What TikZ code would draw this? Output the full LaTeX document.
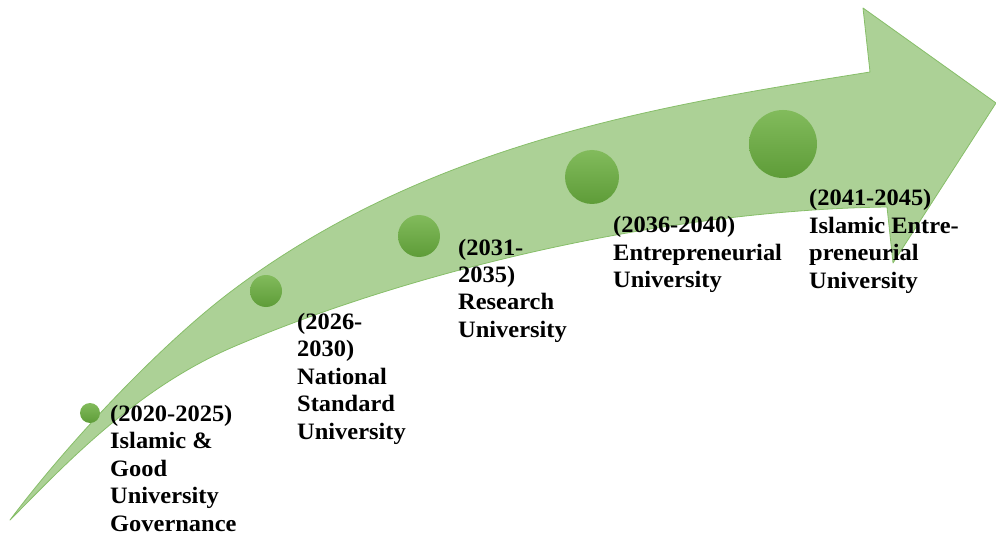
\documentclass[tikz,border=0pt]{standalone}
\usepackage{fontspec}
\setmainfont{Liberation Serif}[FakeStretch=1.04]
\definecolor{bandfill}{RGB}{172,209,150}
\definecolor{bandline}{RGB}{135,190,105}
\definecolor{dottop}{RGB}{130,187,92}
\definecolor{dotbot}{RGB}{94,156,56}
\begin{document}
\begin{tikzpicture}[x=1pt,y=-1pt,
  band/.style={fill=bandfill, draw=bandline, line width=0.8pt, line join=round},
  dot/.style={circle, inner sep=0pt, top color=dottop, bottom color=dotbot, draw=none},
  lbl/.style={anchor=base west, inner sep=0pt, font=\bfseries\fontsize{23.5}{27.5}\selectfont, text=black}]
\useasboundingbox (0,0) rectangle (996,540);
% curved arrow
\coordinate (tail) at (10,520);
\coordinate (um) at (233,290);
\coordinate (un) at (870,72);
\coordinate (hu) at (863,8);
\coordinate (tip) at (996,103);
\coordinate (hl) at (893,263);
\coordinate (ln) at (887,207);
\coordinate (lm) at (233,347);
\path[band] (tail) .. controls (70,440) and (163,342.5) .. (um)
  .. controls (433,140) and (670,104) .. (un)
  -- (hu) -- (tip) -- (hl) -- (ln)
  .. controls (667,210) and (413,270) .. (lm)
  .. controls (133,390) and (60,470) .. (tail) -- cycle;
% milestones
\node[dot, minimum size=20pt] (c1) at (90,413) {};
\node[dot, minimum size=32pt] (c2) at (266,291) {};
\node[dot, minimum size=42pt] (c3) at (419,236) {};
\node[dot, minimum size=54pt] (c4) at (592,177) {};
\node[dot, minimum size=68pt] (c5) at (783,144) {};
% labels
\node[lbl] (t1) at (110,421) {\begin{tabular}[t]{@{}l@{}}(2020-2025)\\Islamic \&\\Good\\University\\Governance\end{tabular}};
\node[lbl] (t2) at (297,329) {\begin{tabular}[t]{@{}l@{}}(2026-\\2030)\\National\\Standard\\University\end{tabular}};
\node[lbl] (t3) at (458,255) {\begin{tabular}[t]{@{}l@{}}(2031-\\2035)\\Research\\University\end{tabular}};
\node[lbl] (t4) at (613,233) {\begin{tabular}[t]{@{}l@{}}(2036-2040)\\Entrepreneurial\\University\end{tabular}};
\node[lbl] (t5) at (809,206) {\begin{tabular}[t]{@{}l@{}}(2041-2045)\\Islamic Entre-\\preneurial\\University\end{tabular}};
\end{tikzpicture}
\end{document}
